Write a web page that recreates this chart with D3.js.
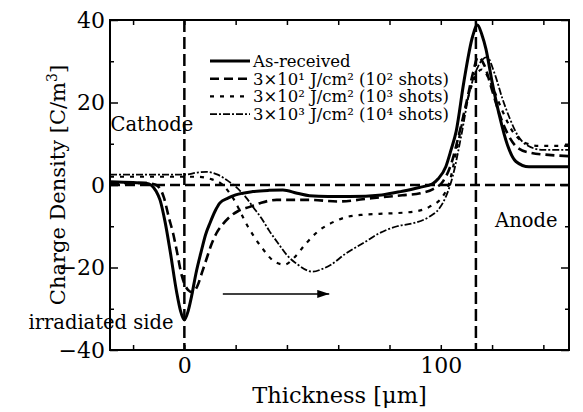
<!DOCTYPE html>
<html>
<head>
<meta charset="utf-8">
<script src="https://cdn.jsdelivr.net/npm/d3@7"></script>
<style>
body { margin: 0; background: #fff; }
</style>
</head>
<body>
<div id="chart"></div>
<script>
// thickness [um] / charge density [C/m3]
const asReceivedX = [-29, -20, -15, -13, -11, -9.5, -7.5, -5.6, -3, -1.5, 0, 1.5, 2.8, 4.5, 6.7, 8.3, 10, 12, 13.8, 17, 20, 26.7, 33, 38.4, 44, 48.8, 56, 64.4, 77, 85, 91.6, 96.8, 99, 102, 104, 106, 109, 112.4, 114.3, 116, 117.6, 120, 122.8, 126, 129.3, 134.4, 150];
const asReceivedY = [0.8, 0.6, 0.4, 0, -1.5, -3.6, -9, -15.8, -26, -30.5, -32.7, -30.5, -27, -21.5, -15.8, -12, -9.2, -6.3, -4.4, -3.2, -2.4, -1.6, -1.3, -1.2, -2, -2.6, -2.8, -2.8, -2.4, -1.5, -0.6, 0.3, 1.5, 4.5, 8.5, 13, 25, 36, 38.8, 36.5, 33, 25, 17, 9.7, 5.7, 4.4, 4.4];

const shots2X = [-29, -15, -11, -8, -6, -4.4, -3, -1, 1.5, 3, 5, 7, 8.6, 10.5, 12.5, 15, 17.7, 21, 25.5, 30, 36, 49, 60, 73, 85, 92, 97, 101, 104, 107, 110, 112.5, 114.5, 117, 120, 123, 126, 130, 135, 142, 150];
const shots2Y = [0.5, 0.5, 0, -3, -8, -11.7, -15.8, -22, -25.5, -26, -24.6, -21, -18, -14.5, -11.7, -9.5, -7.7, -6.3, -5.3, -4.3, -3.6, -3.6, -4, -3.2, -2.5, -2, -1, 1, 5, 12, 20, 27, 31, 29, 23, 17, 12.5, 9, 7.8, 7.3, 7];

const shots3X = [-29, -10, 0, 5, 10, 15, 19, 24.7, 30, 35, 39, 43, 47, 52, 58, 63, 70, 76, 89, 95.5, 100.7, 103.3, 106, 109, 112, 116, 120, 124, 128, 132, 138, 150];
const shots3Y = [2, 2, 2, 2, 1.5, 0, -3.2, -10, -15, -18.5, -19.3, -17.5, -14.5, -11.3, -9, -7.8, -7.2, -7, -6.5, -5.3, -2.8, 0.5, 8, 17, 24, 28, 24, 18, 13, 10.5, 9.5, 9.5];

const shots4X = [-29, 0, 5, 8.6, 13, 17, 20, 24, 27, 30, 33, 37, 40, 44, 50, 54, 57, 63, 70, 76, 83, 89, 95.5, 99.4, 102, 104.6, 108, 111, 114, 118, 121, 124, 127, 130, 134, 140, 150];
const shots4Y = [2.5, 2.5, 3, 3.2, 2.5, 1, -0.4, -3, -5.5, -8, -11, -14.5, -17, -19.2, -21, -20.3, -19.4, -16.6, -14, -11.7, -10, -9.3, -7.7, -5.7, -2.8, 2, 12, 22, 28, 31, 27, 21, 16, 12, 9.5, 8.5, 8.5];

const legendLabels = ["As-received", "3×10¹ J/cm² (10² shots)", "3×10² J/cm² (10³ shots)", "3×10³ J/cm² (10⁴ shots)"];
const dashes = [null, "9,5", "4,6", "7,2,2,2"];
const widths = [3, 2.6, 2.2, 1.8];

const xMajor = [0, 100];
const xMinor = [-20, 20, 40, 60, 80, 120, 140];
const yMajor = [-40, -20, 0, 20, 40];
const yMinor = [-30, -10, 10, 30];

var margin = {top: 20, right: 14, bottom: 62, left: 110},
    width = 583 - margin.left - margin.right,
    height = 412 - margin.top - margin.bottom;

var font = "'DejaVu Serif', serif";

var svg = d3.select("#chart")
    .append("svg")
    .attr("width", 583)
    .attr("height", 412);

const x = d3.scaleLinear()
    .domain([-29, 150])
    .range([margin.left, margin.left + width]);
const y = d3.scaleLinear()
    .domain([-40, 40])
    .range([margin.top + height, margin.top]);

// ticks (all pointing inward)
function addAxis(axis, tx, ty){
    var g = svg.append("g")
        .attr("transform", "translate(" + tx + "," + ty + ")")
        .call(axis);
    g.select(".domain").remove();
    g.selectAll("line").attr("stroke", "#000").attr("stroke-width", 1.5);
    g.selectAll("text")
        .attr("font-family", font)
        .attr("font-size", "22px")
        .attr("fill", "#000");
    return g;
}
addAxis(d3.axisLeft(y).tickValues(yMajor).tickSize(-8).tickPadding(5).tickFormat(d3.format("d")), margin.left, 0);
addAxis(d3.axisLeft(y).tickValues(yMinor).tickSize(-4).tickFormat(""), margin.left, 0);
addAxis(d3.axisRight(y).tickValues(yMajor).tickSize(-8).tickFormat(""), margin.left + width, 0);
addAxis(d3.axisRight(y).tickValues(yMinor).tickSize(-4).tickFormat(""), margin.left + width, 0);
addAxis(d3.axisBottom(x).tickValues(xMajor).tickSize(-5).tickPadding(7).tickFormat(d3.format("d")), 0, margin.top + height);
addAxis(d3.axisBottom(x).tickValues(xMinor).tickSize(-5).tickFormat(""), 0, margin.top + height);
addAxis(d3.axisTop(x).tickValues(xMajor.concat(xMinor)).tickSize(-5).tickFormat(""), 0, margin.top);

svg.append("rect")
    .attr("x", margin.left)
    .attr("y", margin.top)
    .attr("width", width)
    .attr("height", height)
    .style("fill", "none")
    .style("stroke", "#000")
    .style("stroke-width", 2);

// reference dashed lines
svg.append("line")
    .attr("x1", x(-29)).attr("x2", x(150))
    .attr("y1", y(0)).attr("y2", y(0))
    .style("stroke", "#000").style("stroke-width", 2.5)
    .style("stroke-dasharray", "10,5");
[0, 113.7].forEach(function(v){
    svg.append("line")
        .attr("x1", x(v)).attr("x2", x(v))
        .attr("y1", y(40)).attr("y2", y(-40))
        .style("stroke", "#000").style("stroke-width", 2.5)
        .style("stroke-dasharray", "12,5");
});

// curves
const series = [
    {x: asReceivedX, y: asReceivedY},
    {x: shots2X, y: shots2Y},
    {x: shots3X, y: shots3Y},
    {x: shots4X, y: shots4Y}
];
var line = d3.line()
    .x(function(d){ return x(d[0]); })
    .y(function(d){ return y(d[1]); })
    .curve(d3.curveMonotoneX);

series.forEach(function(s, i){
    svg.append("path")
        .datum(s.x.map(function(v, j){ return [v, s.y[j]]; }))
        .attr("d", line)
        .style("fill", "none")
        .style("stroke", "#000")
        .style("stroke-width", widths[i])
        .style("stroke-dasharray", dashes[i]);
});

// legend
var leg = svg.selectAll(".item")
    .data(legendLabels)
    .enter().append("g")
    .attr("class", "item")
    .attr("transform", function(d, i){ return "translate(210," + (61 + i * 17.7) + ")"; });
leg.append("line")
    .attr("x1", 0).attr("x2", 40)
    .style("stroke", "#000")
    .style("stroke-width", function(d, i){ return widths[i]; })
    .style("stroke-dasharray", function(d, i){ return dashes[i]; });
leg.append("text")
    .attr("x", 43)
    .attr("y", 6)
    .attr("font-family", font)
    .attr("font-size", "16.5px")
    .text(function(d){ return d; });

// annotations
svg.append("text")
    .attr("x", x(-28.8)).attr("y", y(13))
    .attr("font-family", font).attr("font-size", "19.5px")
    .text("Cathode");
svg.append("text")
    .attr("x", x(145.5)).attr("y", y(-10.2))
    .attr("text-anchor", "end")
    .attr("font-family", font).attr("font-size", "19.5px")
    .text("Anode");
svg.append("text")
    .attr("x", x(-4.2)).attr("y", y(-34.8))
    .attr("text-anchor", "end")
    .attr("font-family", font).attr("font-size", "19.5px")
    .text("irradiated side");

svg.append("defs").append("marker")
    .attr("id", "arrow")
    .attr("viewBox", "0 0 12 8")
    .attr("refX", 12).attr("refY", 4)
    .attr("markerWidth", 12).attr("markerHeight", 8)
    .attr("markerUnits", "userSpaceOnUse")
    .attr("orient", "auto")
    .append("path")
    .attr("d", "M0,0L12,4L0,8Z")
    .style("fill", "#000");
svg.append("line")
    .attr("x1", x(15)).attr("x2", x(56.5))
    .attr("y1", y(-26.4)).attr("y2", y(-26.4))
    .style("stroke", "#000").style("stroke-width", 1.5)
    .attr("marker-end", "url(#arrow)");

// axis titles
svg.append("text")
    .attr("x", margin.left + width / 2)
    .attr("y", 403)
    .attr("text-anchor", "middle")
    .attr("font-family", font).attr("font-size", "22.5px")
    .text("Thickness [μm]");
svg.append("text")
    .attr("transform", "translate(65," + (margin.top + height / 2) + ") rotate(-90)")
    .attr("text-anchor", "middle")
    .attr("font-family", font).attr("font-size", "21px")
    .html("Charge Density [C/m<tspan dy='-8' font-size='14px'>3</tspan><tspan dy='8'>]</tspan>");
</script>
</body>
</html>
